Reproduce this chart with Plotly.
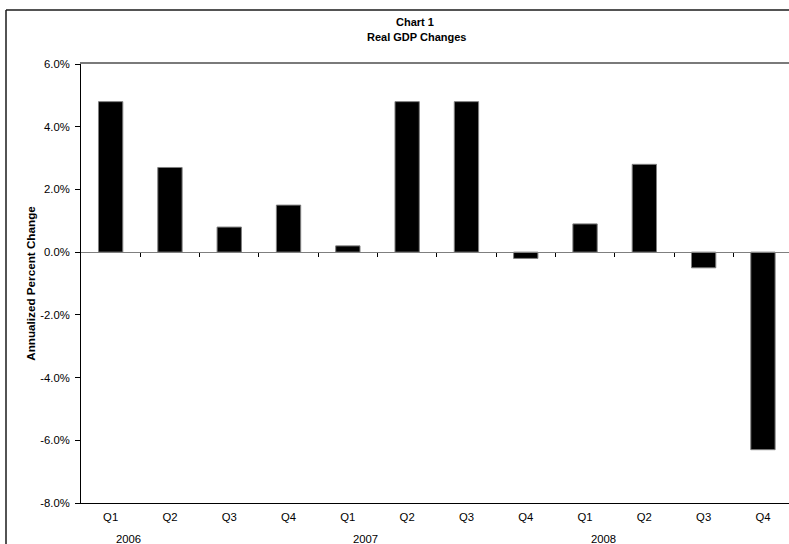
import plotly.graph_objects as go

# Real GDP, annualized quarterly percent change
quarters = ["Q1", "Q2", "Q3", "Q4", "Q1", "Q2", "Q3", "Q4", "Q1", "Q2", "Q3", "Q4"]
years = ["2006", "2007", "2008"]
gdp_change = [4.8, 2.7, 0.8, 1.5, 0.2, 4.8, 4.8, -0.2, 0.9, 2.8, -0.5, -6.3]

y_min, y_max, y_step = -8.0, 6.0, 2.0
y_ticks = [y_min + k * y_step for k in range(int((y_max - y_min) / y_step) + 1)]
y_ticktext = [f"{v:.1f}%" for v in y_ticks]   # plain hyphen for negatives

FONT = "Liberation Sans, Arial, sans-serif"
TICK_SIZE = 11.3

W, H = 789, 544
ML, MT, MB, MR = 81, 64, 41, 0
slot_px = 59.3                      # width of one category slot
plot_w = W - ML - MR
plot_h = H - MT - MB

xs = list(range(len(quarters)))
x_range = [-0.5, -0.5 + plot_w / slot_px]

fig = go.Figure()
fig.add_trace(go.Bar(
    x=xs, y=gdp_change,
    marker=dict(color="black", line=dict(color="#7f7f7f", width=1)),
    xaxis="x", yaxis="y",
    showlegend=False,
))
# empty helper traces so the overlay axes get drawn
for ax in ("x2", "x3"):
    fig.add_trace(go.Scatter(x=[None], y=[None], xaxis=ax, yaxis="y",
                             mode="markers", showlegend=False, hoverinfo="skip"))

# year labels under the first quarter of each year
year_annotations = []
for i, yr in enumerate(years):
    year_annotations.append(dict(
        x=xs[i * 4], y=0, xref="x", yref="paper",
        text=yr, showarrow=False, xanchor="center", yanchor="top",
        xshift=18, yshift=-28,
        font=dict(family=FONT, size=TICK_SIZE, color="black"),
    ))

# outer chart frame (left and top edges; the rest lies outside the page)
frame_x = (6 - ML) / plot_w
frame_y = (plot_h + MT - 10) / plot_h
frame_left = dict(type="line", xref="paper", yref="paper",
                  x0=frame_x, x1=frame_x, y0=-MB / plot_h, y1=frame_y,
                  line=dict(color="#1a1a1a", width=1.5))
frame_top = dict(type="line", xref="paper", yref="paper",
                 x0=frame_x, x1=1.0, y0=frame_y, y1=frame_y,
                 line=dict(color="#1a1a1a", width=1.5))

fig.update_layout(
    width=W, height=H,
    margin=dict(l=ML, r=MR, t=MT, b=MB, pad=0),
    paper_bgcolor="white", plot_bgcolor="white",
    bargap=0.59,
    font=dict(family=FONT, size=TICK_SIZE, color="black"),
    xaxis=dict(
        range=x_range, tickmode="array", tickvals=xs, ticktext=quarters,
        showgrid=False, zeroline=False, ticks="",
        showline=True, linecolor="black", linewidth=1,
        ticklabelstandoff=3,
        tickfont=dict(family=FONT, size=TICK_SIZE, color="black"),
    ),
    # category axis drawn through zero with boundary ticks
    xaxis2=dict(
        overlaying="x", range=x_range, anchor="free",
        position=(0 - y_min) / (y_max - y_min),
        tickmode="array", tickvals=[i + 0.5 for i in xs[:-1]],
        ticks="outside", ticklen=4, tickwidth=1, tickcolor="black",
        showticklabels=False, showgrid=False, zeroline=False,
        showline=True, linecolor="#7f7f7f", linewidth=1,
    ),
    # upper border of the plot area
    xaxis3=dict(
        overlaying="x", range=x_range, side="top", anchor="y",
        showticklabels=False, ticks="", showgrid=False, zeroline=False,
        showline=True, linecolor="#7a7a7a", linewidth=2,
    ),
    yaxis=dict(
        range=[y_min, y_max], tickmode="array", tickvals=y_ticks, ticktext=y_ticktext,
        ticks="outside", ticklen=5, tickwidth=1, tickcolor="black",
        showgrid=False, zeroline=False,
        showline=True, linecolor="black", linewidth=1,
        ticklabelstandoff=3,
        tickfont=dict(family=FONT, size=TICK_SIZE, color="black"),
        title=dict(text="<b>Annualized Percent Change</b>", standoff=2,
                   font=dict(family=FONT, size=11.7, color="black")),
    ),
    annotations=[
        dict(x=(415 - ML) / plot_w, y=(plot_h + MT - 22) / plot_h, xref="paper", yref="paper",
             text="<b>Chart 1</b>", showarrow=False, xanchor="center", yanchor="middle",
             font=dict(family=FONT, size=11, color="black")),
        dict(x=(416 - ML) / plot_w, y=(plot_h + MT - 37) / plot_h, xref="paper", yref="paper",
             text="<b>Real GDP Changes</b>", showarrow=False, xanchor="center", yanchor="middle",
             font=dict(family=FONT, size=11, color="black")),
    ] + year_annotations,
    shapes=[frame_left, frame_top],
)

fig.write_html("out.html")
